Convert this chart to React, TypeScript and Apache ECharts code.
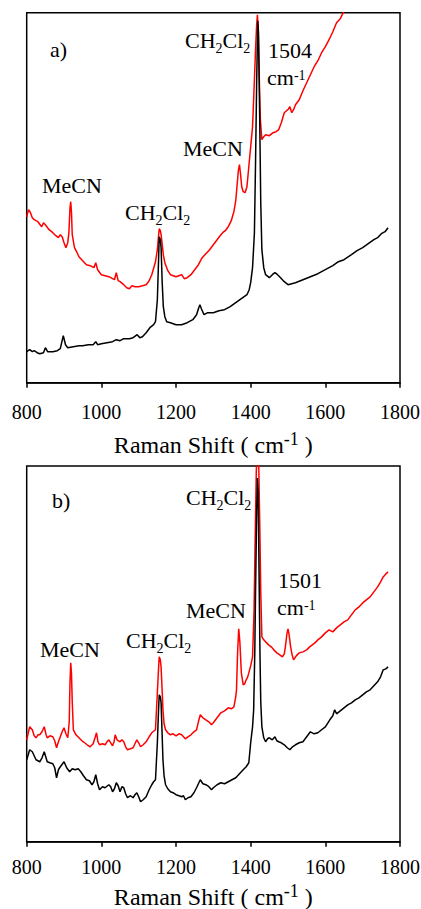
import React, { useEffect, useRef } from "react";
import * as echarts from "echarts";

// Panel a) spectra: [Raman shift (cm-1), intensity (a.u.)]
const aBlack: number[][] = [
  [800, 31], [808, 33], [815, 31], [820, 32], [828, 30], [835, 29], [845, 30], [850, 35], [856, 31],
  [870, 31], [882, 32], [890, 34], [898, 47], [904, 38], [910, 35], [925, 36], [940, 37], [950, 37],
  [965, 38], [978, 38], [985, 41], [990, 38], [1000, 39], [1015, 40], [1030, 41], [1040, 43],
  [1050, 42], [1060, 44], [1075, 44], [1085, 45], [1096, 48], [1103, 45], [1110, 46], [1120, 50],
  [1130, 55], [1140, 58], [1145, 61], [1150, 83], [1153, 120], [1155, 146], [1158, 143], [1160, 135],
  [1163, 100], [1166, 76], [1170, 66], [1175, 61], [1185, 60], [1200, 58], [1215, 58], [1230, 60],
  [1245, 63], [1255, 68], [1260, 74], [1264, 78], [1268, 74], [1275, 68], [1285, 70], [1300, 70],
  [1315, 72], [1330, 73], [1345, 76], [1360, 80], [1375, 84], [1390, 88], [1396, 93], [1400, 100],
  [1405, 115], [1410, 150], [1413, 220], [1416, 300], [1419, 362], [1421, 350], [1424, 270],
  [1427, 180], [1430, 133], [1435, 115], [1440, 108], [1450, 105], [1458, 108], [1465, 110],
  [1472, 108], [1480, 105], [1490, 101], [1500, 98], [1510, 99], [1520, 100], [1540, 103],
  [1560, 106], [1580, 109], [1600, 113], [1620, 117], [1635, 121], [1650, 123], [1670, 128],
  [1685, 132], [1700, 135], [1715, 139], [1730, 143], [1740, 145], [1750, 149], [1760, 151], [1768, 155],
];

const aRed: number[][] = [
  [800, 166], [805, 173], [810, 170], [815, 165], [820, 163], [830, 161], [840, 156], [845, 160],
  [850, 158], [860, 153], [870, 150], [878, 147], [885, 145], [890, 148], [895, 146], [900, 140],
  [905, 135], [910, 140], [913, 150], [916, 175], [918, 181], [920, 170], [922, 148], [928, 135],
  [935, 130], [940, 126], [950, 122], [960, 118], [970, 117], [980, 115], [985, 120], [990, 113],
  [1000, 108], [1010, 107], [1020, 106], [1030, 104], [1035, 103], [1040, 110], [1045, 102],
  [1050, 101], [1060, 98], [1068, 95], [1075, 94], [1082, 97], [1090, 96], [1100, 96], [1110, 97],
  [1120, 98], [1128, 102], [1135, 108], [1145, 121], [1150, 133], [1153, 146], [1155, 154],
  [1158, 152], [1160, 148], [1163, 138], [1166, 128], [1170, 120], [1178, 112], [1185, 108],
  [1200, 106], [1215, 108], [1222, 104], [1230, 105], [1240, 108], [1250, 113], [1260, 118],
  [1270, 125], [1280, 129], [1290, 133], [1300, 138], [1310, 143], [1318, 147], [1325, 150],
  [1332, 152], [1340, 156], [1348, 162], [1355, 171], [1360, 182], [1363, 195], [1367, 212],
  [1370, 218], [1373, 208], [1376, 196], [1380, 191], [1385, 190], [1390, 196], [1395, 216],
  [1400, 236], [1405, 256], [1410, 303], [1413, 333], [1416, 358], [1418, 368], [1420, 355],
  [1422, 323], [1424, 290], [1426, 263], [1430, 243], [1435, 246], [1440, 248], [1450, 247],
  [1460, 250], [1468, 251], [1475, 253], [1482, 260], [1490, 270], [1496, 272], [1500, 273],
  [1505, 276], [1510, 270], [1515, 273], [1520, 278], [1530, 283], [1540, 292], [1550, 300],
  [1560, 308], [1570, 316], [1580, 322], [1590, 330], [1600, 336], [1610, 343], [1620, 351],
  [1630, 360], [1640, 364], [1648, 370], [1652, 375],
];

// Panel b) spectra
const bBlack: number[][] = [
  [800, 82], [808, 92], [815, 90], [825, 82], [835, 80], [841, 84], [847, 90], [855, 80], [862, 79],
  [870, 78], [875, 74], [880, 64], [885, 72], [890, 75], [900, 80], [907, 74], [915, 70], [922, 73],
  [930, 72], [938, 73], [945, 70], [952, 66], [960, 62], [968, 61], [975, 57], [980, 60], [985, 67],
  [990, 58], [995, 52], [1003, 55], [1010, 54], [1020, 57], [1025, 55], [1030, 50], [1035, 53],
  [1040, 59], [1045, 56], [1050, 50], [1055, 55], [1060, 54], [1065, 48], [1070, 44], [1078, 46],
  [1085, 44], [1090, 47], [1095, 49], [1100, 45], [1105, 40], [1112, 42], [1120, 45], [1128, 52],
  [1135, 57], [1140, 60], [1145, 62], [1150, 99], [1153, 130], [1155, 147], [1158, 145], [1160, 139],
  [1163, 105], [1165, 82], [1168, 66], [1172, 57], [1178, 53], [1185, 50], [1192, 49], [1200, 47],
  [1208, 46], [1215, 45], [1220, 46], [1225, 42], [1232, 44], [1240, 45], [1248, 49], [1255, 54],
  [1260, 58], [1265, 62], [1272, 58], [1280, 57], [1288, 55], [1295, 52], [1300, 54], [1310, 57],
  [1320, 59], [1330, 58], [1340, 60], [1350, 62], [1360, 64], [1370, 68], [1380, 72], [1388, 75],
  [1395, 79], [1400, 99], [1405, 115], [1408, 132], [1411, 190], [1413, 250], [1416, 330], [1418, 364],
  [1420, 350], [1423, 250], [1425, 185], [1427, 140], [1430, 115], [1435, 104], [1440, 100],
  [1445, 103], [1450, 104], [1458, 102], [1465, 105], [1470, 101], [1475, 100], [1482, 99],
  [1490, 97], [1498, 94], [1505, 92], [1512, 95], [1520, 97], [1530, 99], [1540, 100], [1550, 105],
  [1560, 110], [1570, 108], [1580, 109], [1590, 112], [1600, 115], [1612, 122], [1620, 126],
  [1625, 132], [1630, 128], [1640, 131], [1650, 134], [1660, 137], [1670, 139], [1680, 142],
  [1690, 144], [1700, 147], [1710, 150], [1720, 152], [1730, 156], [1740, 160], [1748, 165],
  [1755, 172], [1762, 173], [1768, 175],
];

const bRed: number[][] = [
  [800, 102], [808, 115], [815, 112], [820, 106], [825, 104], [830, 107], [835, 107], [841, 110],
  [847, 115], [852, 107], [855, 104], [862, 106], [870, 105], [875, 101], [880, 94], [885, 100],
  [890, 105], [895, 110], [900, 114], [905, 108], [910, 104], [914, 120], [916, 160], [918, 179],
  [920, 168], [922, 140], [925, 112], [932, 107], [940, 104], [948, 101], [955, 99], [962, 97],
  [970, 95], [978, 98], [983, 104], [987, 109], [991, 100], [995, 97], [1003, 98], [1010, 97],
  [1015, 100], [1020, 102], [1025, 99], [1030, 96], [1034, 100], [1037, 107], [1042, 102],
  [1050, 100], [1055, 102], [1060, 100], [1065, 95], [1070, 92], [1078, 93], [1085, 94], [1090, 98],
  [1095, 102], [1100, 99], [1105, 95], [1112, 97], [1120, 100], [1128, 105], [1135, 109],
  [1145, 112], [1150, 149], [1153, 172], [1155, 185], [1158, 182], [1160, 175], [1163, 150],
  [1165, 132], [1168, 118], [1172, 112], [1178, 109], [1185, 107], [1192, 108], [1200, 106],
  [1208, 108], [1215, 107], [1220, 105], [1225, 103], [1232, 105], [1240, 107], [1248, 110],
  [1255, 112], [1260, 120], [1265, 127], [1272, 124], [1280, 122], [1288, 120], [1295, 117],
  [1300, 119], [1310, 124], [1320, 129], [1330, 131], [1340, 134], [1348, 133], [1355, 135],
  [1360, 145], [1362, 152], [1365, 190], [1368, 213], [1371, 200], [1375, 169], [1380, 157],
  [1384, 158], [1388, 162], [1392, 165], [1395, 169], [1400, 176], [1405, 185], [1409, 230],
  [1412, 302], [1415, 370], [1418, 400], [1421, 390], [1425, 302], [1427, 250], [1430, 205],
  [1435, 202], [1440, 200], [1448, 197], [1455, 195], [1462, 192], [1470, 189], [1478, 187],
  [1485, 185], [1490, 188], [1493, 195], [1497, 208], [1500, 213], [1503, 207], [1507, 195],
  [1511, 187], [1515, 182], [1522, 186], [1530, 189], [1540, 190], [1550, 192], [1558, 195],
  [1565, 197], [1572, 199], [1580, 202], [1590, 205], [1600, 209], [1610, 212], [1620, 210],
  [1630, 214], [1640, 217], [1650, 220], [1660, 222], [1670, 227], [1680, 232], [1690, 235],
  [1700, 239], [1710, 242], [1720, 245], [1730, 250], [1740, 255], [1748, 260], [1755, 265],
  [1762, 268], [1768, 270],
];

const xTicks = { min: 800, max: 1800, interval: 200 };
const xTickLabels = [800, 1000, 1200, 1400, 1600, 1800];
const yMaxA = 370;
const yMaxB = 376;
const titleMain = "Raman Shift ( cm";
const titleSup = "-1";
const titleEnd = " )";

const LFONT = "Liberation Serif";
const MAIN = 22;
const SMALL = 14;

// annotation kinds: plain text, "ch2cl2", "cm1"; [kind, text, left x, baseline y]
const annotations: [string, string, number, number][] = [
  ["plain", "a)", 50, 56.7],
  ["ch2cl2", "", 185, 48.3],
  ["plain", "1504", 268, 57.7],
  ["cm1", "", 267, 85],
  ["plain", "MeCN", 183, 156],
  ["plain", "MeCN", 42, 193.3],
  ["ch2cl2", "", 125, 220],
  ["plain", "b)", 52, 508],
  ["ch2cl2", "", 186, 505],
  ["plain", "1501", 278, 588.3],
  ["cm1", "", 277, 615],
  ["plain", "MeCN", 186, 618.3],
  ["plain", "MeCN", 40, 656.7],
  ["ch2cl2", "", 126, 648.3],
];

// per panel: x-axis index, tick-label baseline, title baseline
const panelAxes: [number, number, number][] = [
  [0, 418.3, 453],
  [1, 873.3, 905],
];

let measureCtx: CanvasRenderingContext2D | null = null;
function textWidth(text: string, size: number) {
  if (!measureCtx) measureCtx = document.createElement("canvas").getContext("2d");
  if (!measureCtx) return text.length * size * 0.5;
  measureCtx.font = `${size}px '${LFONT}'`;
  return measureCtx.measureText(text).width;
}

function textEl(text: string, x: number, baseline: number, size: number, shift: number, align = "left") {
  // middle-aligned text: centre sits about 0.34 em above the alphabetic baseline
  return {
    type: "text",
    x,
    y: baseline + shift - 0.3375 * size,
    style: { text, fontFamily: LFONT, fontSize: size, fill: "#000", align, verticalAlign: "middle" },
  };
}

function buildAnnotation([kind, text, x, b]: [string, string, number, number]) {
  if (kind === "ch2cl2") {
    const w1 = textWidth("CH", MAIN);
    const w2 = textWidth("2", SMALL);
    const w3 = textWidth("Cl", MAIN);
    return [
      textEl("CH", x, b, MAIN, 0),
      textEl("2", x + w1, b, SMALL, 5),
      textEl("Cl", x + w1 + w2, b, MAIN, 0),
      textEl("2", x + w1 + w2 + w3, b, SMALL, 5),
    ];
  }
  if (kind === "cm1") {
    return [textEl("cm", x, b, MAIN, 0), textEl("-1", x + textWidth("cm", MAIN), b, SMALL, -4.6)];
  }
  return [textEl(text, x, b, MAIN, 0)];
}

function xAxisFor(gridIndex: number) {
  return {
    type: "value",
    gridIndex,
    min: xTicks.min,
    max: xTicks.max,
    interval: xTicks.interval,
    axisLine: { show: true, lineStyle: { color: "#000", width: 1.5 } },
    axisTick: { show: true, length: 5, inside: false, lineStyle: { color: "#000", width: 1.5 } },
    axisLabel: { show: false },
    splitLine: { show: false },
  };
}

function yAxisFor(gridIndex: number, max: number) {
  return { type: "value", gridIndex, min: 0, max, show: false };
}

function lineSeries(data: number[][], idx: number, color: string) {
  return {
    type: "line",
    xAxisIndex: idx,
    yAxisIndex: idx,
    data,
    symbol: "none",
    lineStyle: { color, width: 1.5 },
  };
}

export default function App() {
  const ref = useRef<HTMLDivElement>(null);
  useEffect(() => {
    if (!ref.current) return;
    const chart = echarts.init(ref.current, null, { renderer: "svg" });
    chart.setOption({
      animation: false,
      backgroundColor: "#fff",
      grid: [
        { left: 26.7, right: 21, top: 12.7, height: 370, show: true, borderColor: "#000", borderWidth: 1.5 },
        { left: 26.7, right: 21, top: 466, height: 375.7, show: true, borderColor: "#000", borderWidth: 1.5 },
      ],
      xAxis: [xAxisFor(0), xAxisFor(1)],
      yAxis: [yAxisFor(0, yMaxA), yAxisFor(1, yMaxB)],
      series: [
        lineSeries(aRed, 0, "#ff0000"),
        lineSeries(aBlack, 0, "#000000"),
        lineSeries(bRed, 1, "#ff0000"),
        lineSeries(bBlack, 1, "#000000"),
      ],
    });

    // Tick labels and axis titles placed through the axes' own scale (convertToPixel)
    const axisTexts: any[] = [];
    panelAxes.forEach(([axisIndex, tickBase, titleBase]) => {
      xTickLabels.forEach((v) => {
        const px = chart.convertToPixel({ xAxisIndex: axisIndex }, v) as number;
        axisTexts.push(textEl(String(v), px, tickBase, 20, 0, "center"));
      });
      const cx = chart.convertToPixel({ xAxisIndex: axisIndex }, (xTicks.min + xTicks.max) / 2) as number;
      const wMain = textWidth(titleMain, 24);
      const wSup = textWidth(titleSup, 18);
      const wEnd = textWidth(titleEnd, 24);
      const x0 = cx - (wMain + wSup + wEnd) / 2;
      axisTexts.push(textEl(titleMain, x0, titleBase, 24, 0));
      axisTexts.push(textEl(titleSup, x0 + wMain, titleBase, 18, -8));
      axisTexts.push(textEl(titleEnd, x0 + wMain + wSup, titleBase, 24, 0));
    });

    chart.setOption({
      graphic: [...annotations.flatMap(buildAnnotation), ...axisTexts],
    });
    return () => chart.dispose();
  }, []);
  return <div ref={ref} style={{ position: "fixed", left: 0, top: 0, width: 421, height: 909 }} />;
}
